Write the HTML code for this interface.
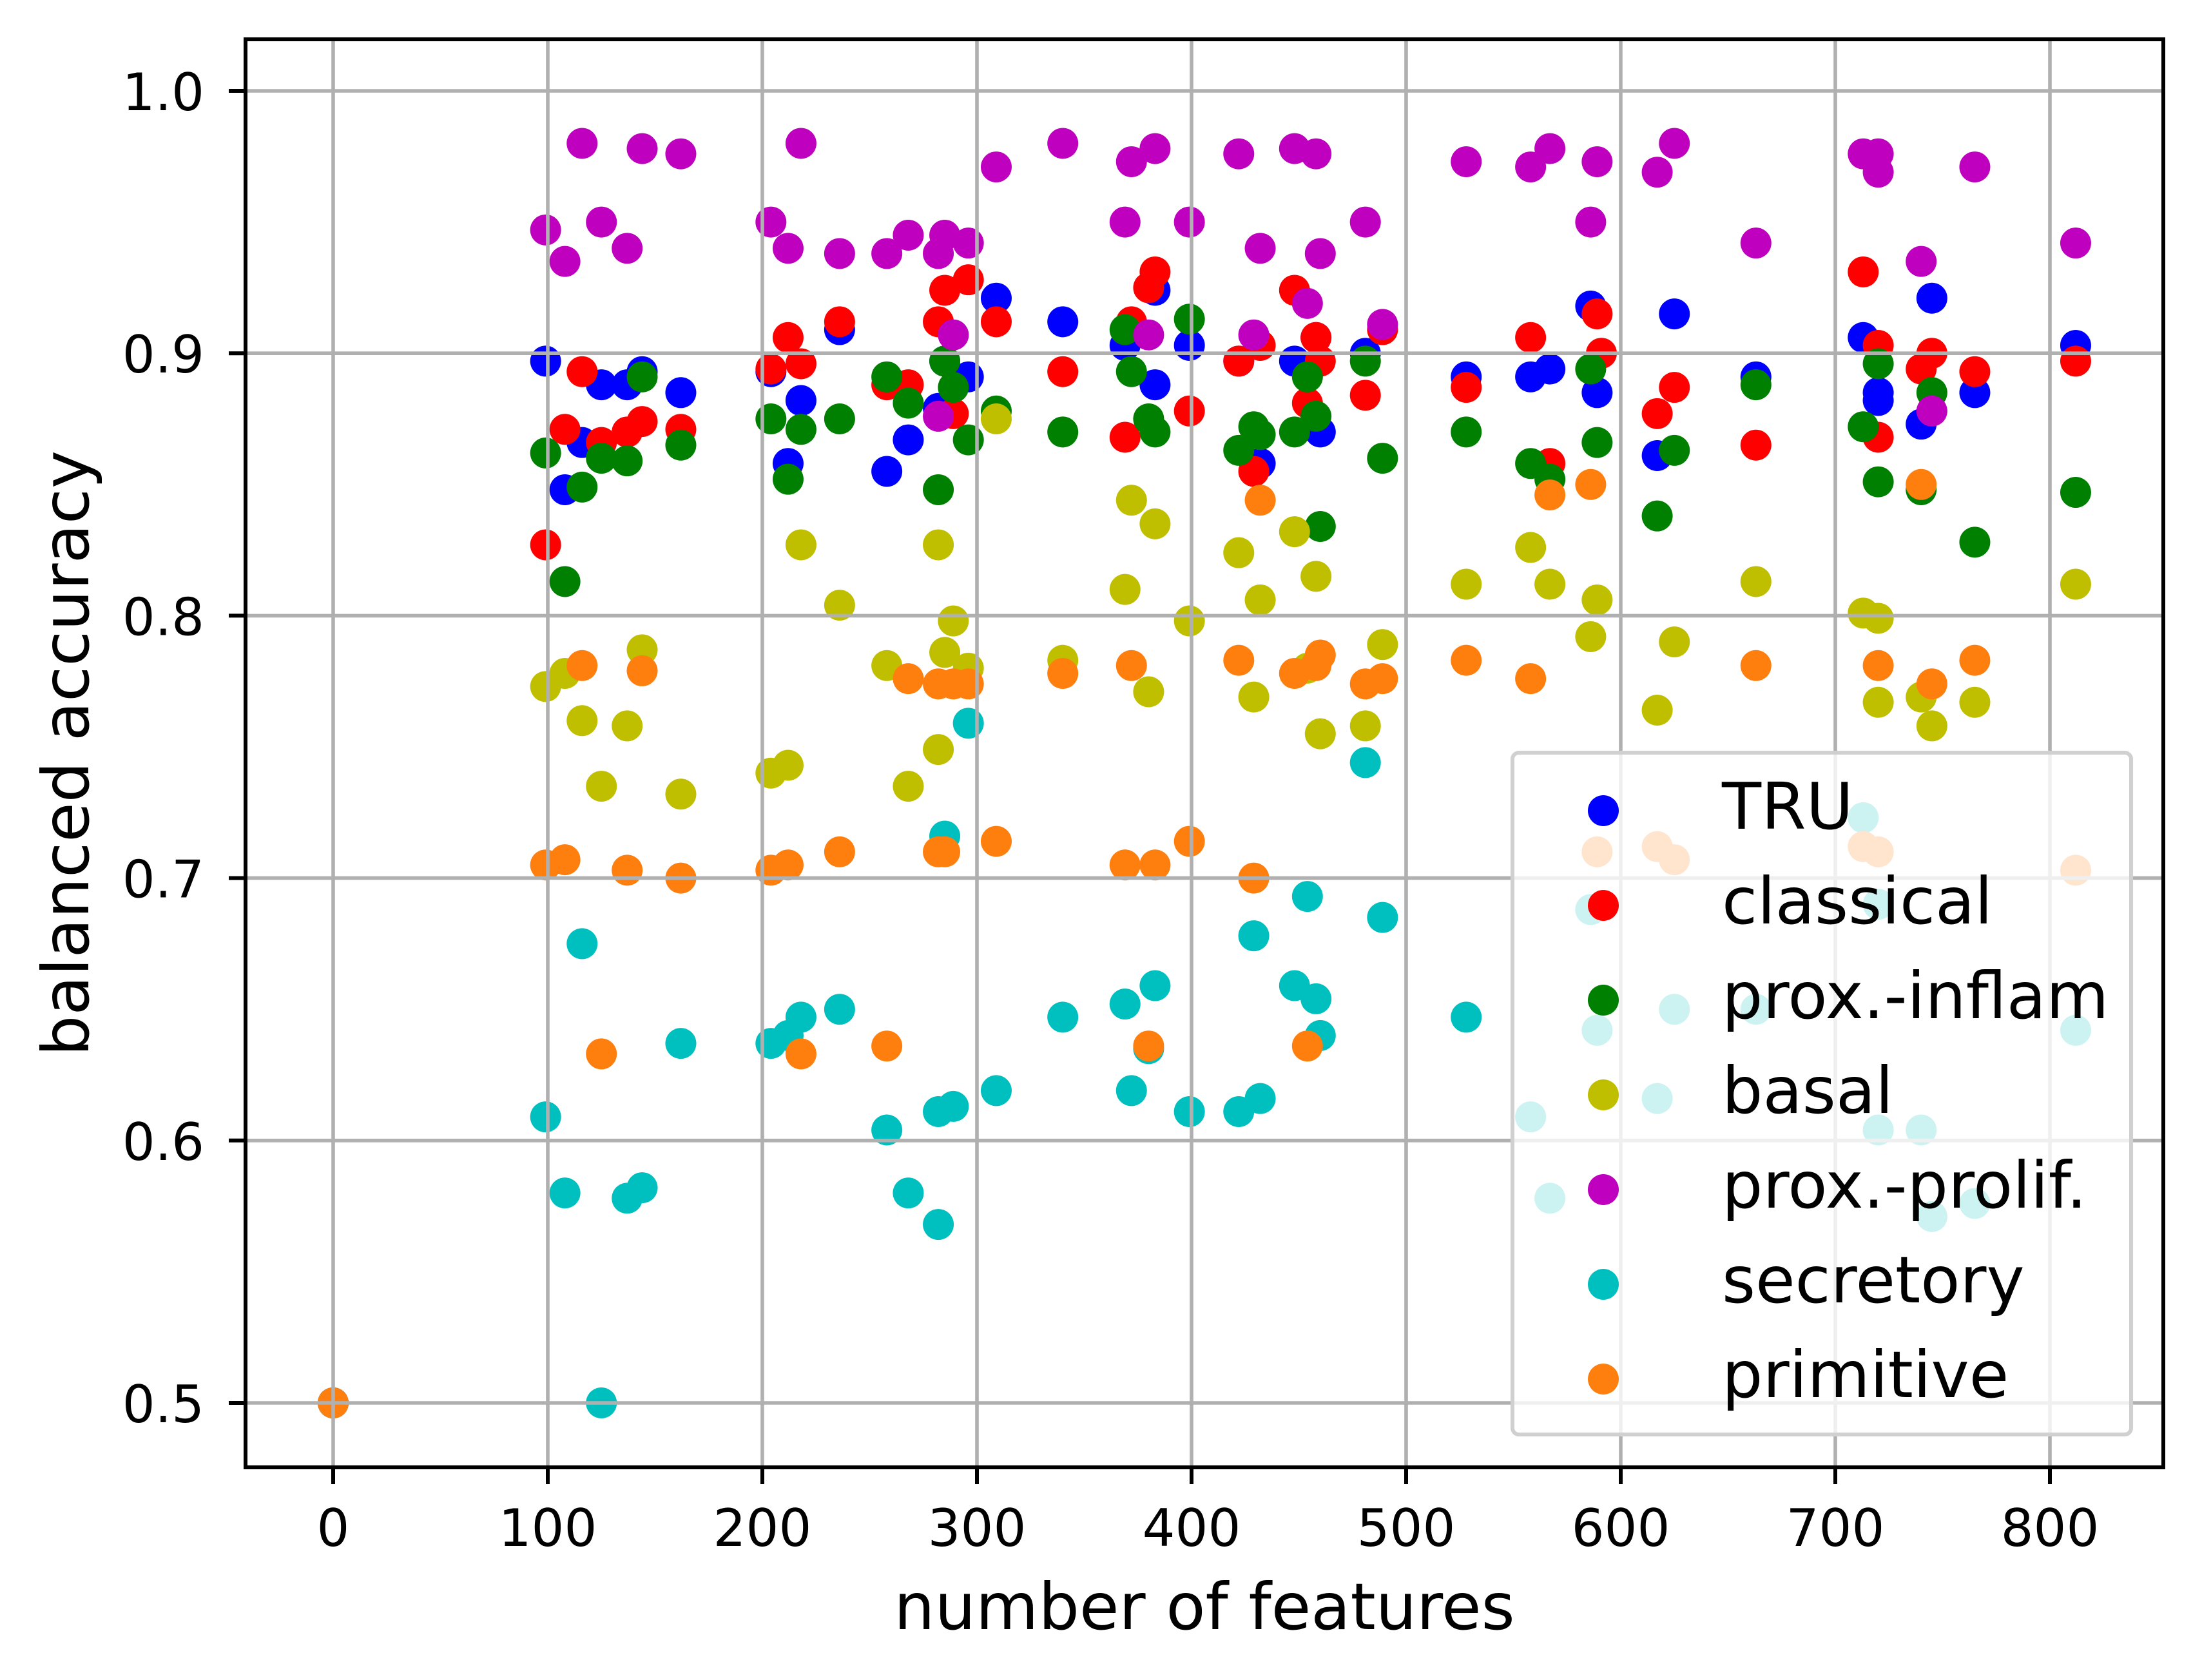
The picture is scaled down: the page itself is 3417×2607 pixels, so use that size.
<!DOCTYPE html>
<html><head><meta charset="utf-8"><style>
html,body{margin:0;padding:0;background:#fff;}
svg{display:block;font-family:"DejaVu Sans","Liberation Sans",sans-serif;}
</style></head><body>
<svg id="chart" width="3417" height="2607" viewBox="0 0 3417 2607" xmlns="http://www.w3.org/2000/svg">
<rect width="3417" height="2607" fill="#fff"/>
<g id="points"></g>
<g id="grid"></g>
<g id="axes"></g>
<g id="legend"></g>
</svg>
<script>
const seriesNames = ["TRU","classical","prox.-inflam","basal","prox.-prolif.","secretory","primitive"];
const seriesColors = ["#0000ff","#ff0000","#008000","#bfbf00","#bf00bf","#00bfbf","#ff7f0e"];
const xTicks = [0,100,200,300,400,500,600,700,800];
const yTicks = [0.5,0.6,0.7,0.8,0.9,1.0];
const yTickLabels = ["0.5","0.6","0.7","0.8","0.9","1.0"];
const truData = [[0,0.5],[99,0.897],[108,0.848],[116,0.866],[125,0.888],[137,0.888],[144,0.893],[162,0.885],[204,0.893],[212,0.858],[218,0.882],[236,0.909],[258,0.855],[268,0.867],[282,0.879],[285,0.897],[296,0.891],[309,0.921],[340,0.912],[369,0.903],[383,0.888],[383,0.924],[399,0.903],[422,0.897],[432,0.858],[448,0.897],[458,0.906],[460,0.870],[481,0.900],[528,0.891],[558,0.891],[567,0.894],[586,0.918],[589,0.885],[617,0.861],[625,0.915],[663,0.891],[713,0.906],[720,0.882],[720,0.885],[740,0.873],[745,0.921],[765,0.885],[812,0.903]];
const classicalData = [[0,0.5],[99,0.827],[108,0.871],[116,0.893],[125,0.866],[137,0.870],[144,0.874],[162,0.871],[204,0.894],[212,0.906],[218,0.896],[236,0.912],[258,0.888],[268,0.888],[282,0.912],[285,0.924],[289,0.877],[296,0.928],[309,0.912],[340,0.893],[369,0.868],[372,0.912],[380,0.925],[383,0.931],[399,0.878],[422,0.897],[429,0.855],[432,0.903],[448,0.924],[454,0.881],[458,0.906],[460,0.897],[481,0.884],[489,0.909],[528,0.887],[558,0.906],[567,0.858],[589,0.915],[591,0.900],[617,0.877],[625,0.887],[663,0.865],[713,0.931],[720,0.868],[720,0.903],[740,0.894],[745,0.900],[765,0.893],[812,0.897]];
const inflamData = [[0,0.5],[99,0.862],[108,0.813],[116,0.849],[125,0.860],[137,0.859],[144,0.891],[162,0.865],[204,0.875],[212,0.852],[218,0.871],[236,0.875],[258,0.891],[268,0.881],[282,0.848],[285,0.897],[289,0.887],[296,0.867],[309,0.878],[340,0.870],[369,0.909],[372,0.893],[380,0.875],[383,0.870],[399,0.913],[422,0.863],[429,0.872],[432,0.869],[448,0.870],[454,0.891],[458,0.876],[460,0.834],[481,0.897],[489,0.860],[528,0.870],[558,0.858],[567,0.852],[589,0.866],[586,0.894],[617,0.838],[625,0.863],[663,0.888],[713,0.872],[720,0.851],[720,0.896],[740,0.848],[745,0.885],[765,0.828],[812,0.847]];
const basalData = [[0,0.5],[99,0.773],[108,0.778],[116,0.760],[125,0.735],[137,0.758],[144,0.787],[162,0.732],[204,0.740],[212,0.743],[218,0.827],[236,0.804],[258,0.781],[268,0.735],[282,0.749],[282,0.827],[285,0.786],[289,0.798],[296,0.780],[309,0.875],[340,0.783],[369,0.810],[372,0.844],[380,0.771],[383,0.835],[399,0.798],[422,0.824],[429,0.769],[432,0.806],[448,0.832],[454,0.780],[458,0.815],[460,0.755],[481,0.758],[489,0.789],[528,0.812],[558,0.826],[567,0.812],[586,0.792],[589,0.806],[617,0.764],[625,0.790],[663,0.813],[713,0.801],[720,0.799],[720,0.767],[740,0.769],[745,0.758],[765,0.767],[812,0.812]];
const prolifData = [[0,0.5],[99,0.947],[108,0.935],[116,0.980],[125,0.950],[137,0.940],[144,0.978],[162,0.976],[204,0.950],[212,0.940],[218,0.980],[236,0.938],[258,0.938],[268,0.945],[282,0.876],[282,0.938],[285,0.945],[289,0.907],[296,0.942],[309,0.971],[340,0.980],[369,0.950],[372,0.973],[380,0.907],[383,0.978],[399,0.950],[422,0.976],[429,0.907],[432,0.940],[448,0.978],[454,0.919],[458,0.976],[460,0.938],[481,0.950],[489,0.911],[528,0.973],[558,0.971],[567,0.978],[586,0.950],[589,0.973],[617,0.969],[625,0.980],[663,0.942],[713,0.976],[720,0.976],[720,0.969],[740,0.935],[745,0.878],[765,0.971],[812,0.942]];
const secretoryData = [[0,0.5],[99,0.609],[108,0.580],[116,0.675],[125,0.500],[137,0.578],[144,0.582],[162,0.637],[204,0.637],[212,0.640],[218,0.647],[236,0.650],[258,0.604],[268,0.580],[282,0.568],[282,0.611],[285,0.716],[289,0.613],[296,0.759],[309,0.619],[340,0.647],[369,0.652],[372,0.619],[380,0.635],[383,0.659],[399,0.611],[422,0.611],[429,0.678],[432,0.616],[448,0.659],[454,0.693],[458,0.654],[460,0.640],[481,0.744],[489,0.685],[528,0.647],[558,0.609],[567,0.578],[586,0.688],[589,0.642],[617,0.616],[625,0.650],[663,0.650],[713,0.723],[720,0.604],[720,0.690],[740,0.604],[745,0.571],[765,0.576],[812,0.642]];
const primitiveData = [[0,0.5],[99,0.705],[108,0.707],[116,0.781],[125,0.633],[137,0.703],[144,0.779],[162,0.700],[204,0.703],[212,0.705],[218,0.633],[236,0.710],[258,0.636],[268,0.776],[282,0.774],[282,0.710],[285,0.710],[289,0.774],[296,0.774],[309,0.714],[340,0.778],[369,0.705],[372,0.781],[380,0.636],[383,0.705],[399,0.714],[422,0.783],[429,0.700],[432,0.844],[448,0.778],[454,0.636],[458,0.781],[460,0.785],[481,0.774],[489,0.776],[528,0.783],[558,0.776],[567,0.846],[586,0.850],[589,0.710],[617,0.712],[625,0.707],[663,0.781],[713,0.712],[720,0.710],[720,0.781],[740,0.850],[745,0.774],[765,0.783],[812,0.703]];
const allSeries = [truData,classicalData,inflamData,basalData,prolifData,secretoryData,primitiveData];

const NS="http://www.w3.org/2000/svg";
const L=381,R=3357,T=61,B=2277;
function xs(v){return 517+v*(3181-517)/800;}
function ys(v){return 2177+(v-0.5)*(141-2177)/0.5;}
function mk(tag,attrs,parent){const e=document.createElementNS(NS,tag);for(const k in attrs)e.setAttribute(k,attrs[k]);parent.appendChild(e);return e;}

const pts=document.getElementById('points');
allSeries.forEach((data,si)=>{
  const g=mk('g',{},pts);
  
  
  data.forEach(d=>{
    const c=mk('circle',{cx:xs(d[0]),cy:ys(d[1]),r:24,fill:seriesColors[si]},g);
    
    
  });
});

const grid=document.getElementById('grid');
xTicks.forEach(t=>{const l=mk('line',{x1:xs(t),x2:xs(t),y1:T,y2:B,stroke:'#b0b0b0','stroke-width':5.6},grid);

});
yTicks.forEach(t=>{const l=mk('line',{x1:L,x2:R,y1:ys(t),y2:ys(t),stroke:'#b0b0b0','stroke-width':5.6},grid);

});

const ax=document.getElementById('axes');
xTicks.forEach(t=>{
  mk('line',{x1:xs(t),x2:xs(t),y1:B,y2:B+26,stroke:'#000','stroke-width':6},ax);
  const tx=mk('text',{x:xs(t),y:2399,'font-size':80,'text-anchor':'middle',fill:'#000'},ax);
  tx.textContent=t;
  
  
});
yTicks.forEach((t,i)=>{
  mk('line',{x1:L-26,x2:L,y1:ys(t),y2:ys(t),stroke:'#000','stroke-width':6},ax);
  const tx=mk('text',{x:317,y:ys(t)+30,'font-size':80,'text-anchor':'end',fill:'#000'},ax);
  tx.textContent=yTickLabels[i];
  
  
});
const frame=mk('rect',{x:L,y:T,width:R-L,height:B-T,fill:'none',stroke:'#000','stroke-width':6},ax);


const xl=mk('text',{x:(L+R)/2,y:2528,'font-size':100,'text-anchor':'middle',fill:'#000'},ax);
xl.textContent='number of features';


const yl=mk('text',{x:0,y:0,'font-size':100,'text-anchor':'middle',fill:'#000',transform:'translate(137,'+((T+B)/2)+') rotate(-90)'},ax);
yl.textContent='balanced accuracy';



const lg=document.getElementById('legend');
const box=mk('rect',{x:2347,y:1168,width:960,height:1058,rx:10,fill:'#fff','fill-opacity':0.8,stroke:'#d0d0d0','stroke-width':6},lg);


seriesNames.forEach((n,i)=>{
  const y=1258+i*147;
  const e=mk('g',{},lg);
  
  
  mk('circle',{cx:2488,cy:y,r:24,fill:seriesColors[i]},e);
  const t=mk('text',{x:2672,y:y+28,'font-size':100,fill:'#000'},e);
  t.textContent=n;
});
</script>
</body></html>
